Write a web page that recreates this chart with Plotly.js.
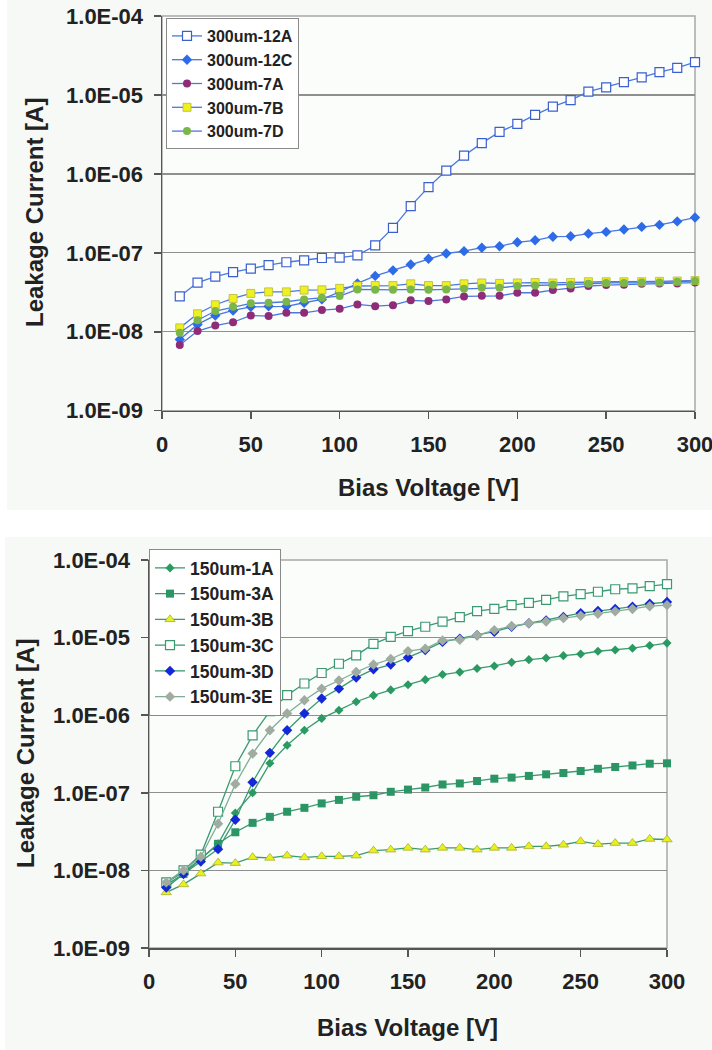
<!DOCTYPE html>
<html>
<head>
<meta charset="utf-8">
<script src="https://cdn.plot.ly/plotly-3.0.1.min.js"></script>
<style>
html,body{margin:0;padding:0;background:#ffffff;}
#chart{width:712px;height:1050px;}
</style>
</head>
<body>
<div id="chart"></div>
<script>
// ---------- data ----------
const voltage = [10,20,30,40,50,60,70,80,90,100,110,120,130,140,150,160,170,180,190,200,210,220,230,240,250,260,270,280,290,300];
const xTicks = [0,50,100,150,200,250,300];
const yTickVals = [1e-9,1e-8,1e-7,1e-6,1e-5,1e-4];
const yTickText = ['1.0E-09','1.0E-08','1.0E-07','1.0E-06','1.0E-05','1.0E-04'];

// top chart: 300um sensors
const topNames = ['300um-12A','300um-12C','300um-7A','300um-7B','300um-7D'];
const i300_12A = [2.8e-8,4.2e-8,5.0e-8,5.7e-8,6.3e-8,7.0e-8,7.6e-8,8.0e-8,8.6e-8,8.7e-8,9.3e-8,1.24e-7,2.07e-7,3.9e-7,6.8e-7,1.1e-6,1.7e-6,2.45e-6,3.4e-6,4.3e-6,5.6e-6,7.1e-6,8.6e-6,1.1e-5,1.25e-5,1.45e-5,1.67e-5,1.94e-5,2.2e-5,2.6e-5];
const i300_12C = [8.0e-9,1.24e-8,1.61e-8,1.86e-8,2.07e-8,2.1e-8,2.1e-8,2.33e-8,2.57e-8,3.2e-8,4.1e-8,5.1e-8,6.0e-8,7.1e-8,8.4e-8,9.8e-8,1.05e-7,1.16e-7,1.21e-7,1.36e-7,1.44e-7,1.6e-7,1.62e-7,1.75e-7,1.84e-7,1.97e-7,2.13e-7,2.26e-7,2.5e-7,2.8e-7];
const i300_7A = [6.8e-9,1.02e-8,1.2e-8,1.32e-8,1.61e-8,1.58e-8,1.74e-8,1.74e-8,1.88e-8,1.95e-8,2.22e-8,2.11e-8,2.17e-8,2.5e-8,2.45e-8,2.57e-8,2.8e-8,2.85e-8,2.85e-8,3.12e-8,3.12e-8,3.37e-8,3.54e-8,3.8e-8,3.9e-8,3.95e-8,4.05e-8,4.1e-8,4.1e-8,4.2e-8];
const i300_7B = [1.12e-8,1.69e-8,2.2e-8,2.64e-8,3.06e-8,3.2e-8,3.2e-8,3.37e-8,3.4e-8,3.54e-8,3.8e-8,3.85e-8,3.85e-8,4.05e-8,3.85e-8,3.85e-8,4.05e-8,4.15e-8,4.1e-8,4.15e-8,4.2e-8,4.15e-8,4.2e-8,4.3e-8,4.3e-8,4.3e-8,4.3e-8,4.35e-8,4.4e-8,4.45e-8];
const i300_7D = [9.7e-9,1.4e-8,1.83e-8,2.07e-8,2.29e-8,2.33e-8,2.4e-8,2.57e-8,2.7e-8,2.83e-8,3.44e-8,3.4e-8,3.4e-8,3.44e-8,3.4e-8,3.44e-8,3.5e-8,3.6e-8,3.6e-8,3.8e-8,3.85e-8,3.95e-8,3.95e-8,4.05e-8,4.15e-8,4.15e-8,4.2e-8,4.2e-8,4.3e-8,4.4e-8];

// bottom chart: 150um sensors
const botNames = ['150um-1A','150um-3A','150um-3B','150um-3C','150um-3D','150um-3E'];
const i150_1A = [7.0e-9,9.5e-9,1.4e-8,2.2e-8,5.5e-8,1.0e-7,2.4e-7,4.1e-7,6.4e-7,9.1e-7,1.16e-6,1.49e-6,1.8e-6,2.12e-6,2.47e-6,2.87e-6,3.34e-6,3.59e-6,4.0e-6,4.31e-6,4.8e-6,5.2e-6,5.45e-6,5.85e-6,6.15e-6,6.67e-6,6.93e-6,7.3e-6,7.9e-6,8.5e-6];
const i150_3A = [6.5e-9,9.0e-9,1.4e-8,2.2e-8,3.1e-8,4.1e-8,4.9e-8,5.7e-8,6.4e-8,7.3e-8,8.1e-8,8.9e-8,9.3e-8,1.03e-7,1.1e-7,1.17e-7,1.28e-7,1.32e-7,1.42e-7,1.52e-7,1.57e-7,1.65e-7,1.73e-7,1.8e-7,1.91e-7,2.04e-7,2.15e-7,2.25e-7,2.37e-7,2.4e-7];
const i150_3B = [5.2e-9,6.6e-9,9.1e-9,1.26e-8,1.24e-8,1.48e-8,1.45e-8,1.55e-8,1.47e-8,1.52e-8,1.52e-8,1.55e-8,1.8e-8,1.85e-8,1.95e-8,1.85e-8,1.95e-8,1.95e-8,1.85e-8,1.95e-8,1.95e-8,2.04e-8,2.04e-8,2.14e-8,2.37e-8,2.18e-8,2.25e-8,2.25e-8,2.54e-8,2.5e-8];
const i150_3C = [7.0e-9,1.0e-8,1.6e-8,5.7e-8,2.2e-7,5.5e-7,1.13e-6,1.81e-6,2.56e-6,3.5e-6,4.6e-6,5.9e-6,8.3e-6,1.02e-5,1.21e-5,1.38e-5,1.61e-5,1.84e-5,2.19e-5,2.34e-5,2.62e-5,2.8e-5,3.06e-5,3.4e-5,3.63e-5,3.9e-5,4.2e-5,4.3e-5,4.6e-5,4.9e-5];
const i150_3D = [6.0e-9,9.0e-9,1.3e-8,1.88e-8,4.5e-8,1.37e-7,3.27e-7,6.4e-7,1.05e-6,1.64e-6,2.2e-6,3.05e-6,3.9e-6,4.5e-6,5.55e-6,6.9e-6,8.8e-6,9.7e-6,1.07e-5,1.19e-5,1.38e-5,1.53e-5,1.66e-5,1.84e-5,2.07e-5,2.2e-5,2.34e-5,2.5e-5,2.73e-5,2.87e-5];
const i150_3E = [7.0e-9,1.0e-8,1.5e-8,4.0e-8,1.3e-7,3.2e-7,6.4e-7,1.05e-6,1.56e-6,2.2e-6,2.8e-6,3.6e-6,4.5e-6,5.3e-6,6.7e-6,7.2e-6,9.2e-6,9.4e-6,1.07e-5,1.25e-5,1.41e-5,1.53e-5,1.61e-5,1.78e-5,1.91e-5,2.03e-5,2.18e-5,2.34e-5,2.54e-5,2.62e-5];

// ---------- styling ----------
const W = 712, H = 1050;
const px = v => v / W;
const py = v => (H - v) / H;
const FONT = 'Liberation Sans, Arial, sans-serif';
const topLine = '#4a78e0';
const botLine = '#3a9a70';

function tr(name, y, xa, ya, leg, lineColor, marker) {
  return {
    type: 'scatter', mode: 'lines+markers', name: name,
    x: voltage, y: y, xaxis: xa, yaxis: ya, legend: leg,
    line: {color: lineColor, width: 1.3},
    marker: marker, cliponaxis: false
  };
}

const traces = [
  tr(topNames[0], i300_12A, 'x', 'y', 'legend', topLine, {symbol:'square', size:9, color:'#ffffff', line:{color:'#3a5fd0', width:1.2}}),
  tr(topNames[1], i300_12C, 'x', 'y', 'legend', topLine, {symbol:'diamond', size:8, color:'#2d6be8', line:{width:0}}),
  tr(topNames[2], i300_7A, 'x', 'y', 'legend', topLine, {symbol:'circle', size:8, color:'#8e2c78', line:{width:0}}),
  tr(topNames[3], i300_7B, 'x', 'y', 'legend', topLine, {symbol:'square', size:8, color:'#eef020', line:{color:'#b8b840', width:0.8}}),
  tr(topNames[4], i300_7D, 'x', 'y', 'legend', topLine, {symbol:'circle', size:8, color:'#7ab648', line:{width:0}}),

  tr(botNames[0], i150_1A, 'x2', 'y2', 'legend2', botLine, {symbol:'diamond', size:7, color:'#2a9a62', line:{width:0}}),
  tr(botNames[1], i150_3A, 'x2', 'y2', 'legend2', botLine, {symbol:'square', size:8, color:'#2b9565', line:{width:0}}),
  tr(botNames[2], i150_3B, 'x2', 'y2', 'legend2', botLine, {symbol:'triangle-up', size:9, color:'#e8f01e', line:{color:'#a8b030', width:0.8}}),
  tr(botNames[3], i150_3C, 'x2', 'y2', 'legend2', botLine, {symbol:'square', size:9, color:'#ffffff', line:{color:'#3a9a70', width:1.2}}),
  tr(botNames[4], i150_3D, 'x2', 'y2', 'legend2', botLine, {symbol:'diamond', size:8, color:'#1428d8', line:{width:0}}),
  tr(botNames[5], i150_3E, 'x2', 'y2', 'legend2', '#7fae98', {symbol:'diamond', size:8, color:'#a0aca0', line:{width:0}})
];

const tickFont = {family: FONT, size: 22, color: '#222222', weight: 'bold'};
const titleFont = {family: FONT, size: 24, color: '#222222', weight: 'bold'};

function xAxis(domain, anchor) {
  return {
    domain: domain, anchor: anchor, range: [0, 300],
    tickvals: xTicks, ticktext: xTicks.map(String),
    ticks: 'outside', ticklen: 7, tickcolor: '#555', tickwidth: 1.5,
    ticklabelstandoff: 6, ticklabeloverflow: 'allow',
    showline: true, linecolor: '#555', linewidth: 1.5,
    showgrid: false, zeroline: false, tickfont: tickFont, fixedrange: true
  };
}
function yAxis(domain, anchor) {
  return {
    domain: domain, anchor: anchor, type: 'log', range: [-9, -4],
    tickvals: yTickVals, ticktext: yTickText,
    ticks: 'outside', ticklen: 7, tickcolor: '#555', tickwidth: 1.5,
    ticklabelstandoff: 6, ticklabeloverflow: 'allow',
    showline: true, linecolor: '#555', linewidth: 1.5,
    showgrid: true, gridcolor: '#8f8f8f', gridwidth: 1.3,
    zeroline: false, tickfont: tickFont, fixedrange: true
  };
}

const layout = {
  width: W, height: H,
  margin: {l: 0, r: 0, t: 0, b: 0},
  paper_bgcolor: '#ffffff',
  plot_bgcolor: 'rgba(0,0,0,0)',
  font: {family: FONT},
  xaxis: xAxis([px(162), px(695)], 'y'),
  yaxis: yAxis([py(410.7), py(16)], 'x'),
  xaxis2: xAxis([px(149), px(667)], 'y2'),
  yaxis2: yAxis([py(948), py(560)], 'x2'),
  legend: {
    x: px(166), y: py(18), xanchor: 'left', yanchor: 'top',
    bgcolor: '#ffffff', bordercolor: '#8a8a8a', borderwidth: 1,
    font: {family: FONT, size: 16, color: '#222', weight: 'bold'},
    tracegroupgap: 0, itemclick: false
  },
  legend2: {
    x: px(149), y: py(549), xanchor: 'left', yanchor: 'top',
    bgcolor: '#ffffff', bordercolor: '#8a8a8a', borderwidth: 1,
    font: {family: FONT, size: 17.5, color: '#222', weight: 'bold'},
    tracegroupgap: 0, itemclick: false
  },
  shapes: [
    {type:'rect', xref:'paper', yref:'paper', x0:px(7), x1:1, y0:py(510), y1:1, fillcolor:'#f6f9f6', line:{width:0}, layer:'below'},
    {type:'rect', xref:'paper', yref:'paper', x0:px(5), x1:1, y0:0, y1:py(537), fillcolor:'#f6f9f6', line:{width:0}, layer:'below'},
    {type:'rect', xref:'x domain', yref:'y domain', x0:0, x1:1, y0:0, y1:1, fillcolor:'#fbfdfb', line:{color:'#a8a8a8', width:1.5}, layer:'below'},
    {type:'rect', xref:'x2 domain', yref:'y2 domain', x0:0, x1:1, y0:0, y1:1, fillcolor:'#fbfdfb', line:{color:'#a8a8a8', width:1.5}, layer:'below'}
  ],
  annotations: [
    {text:'Leakage Current [A]', xref:'paper', yref:'paper', x:px(34), y:py(213), textangle:-90, showarrow:false, font:titleFont, xanchor:'center', yanchor:'middle'},
    {text:'Bias Voltage [V]', xref:'paper', yref:'paper', x:px(428), y:py(488), showarrow:false, font:titleFont, xanchor:'center', yanchor:'middle'},
    {text:'Leakage Current [A]', xref:'paper', yref:'paper', x:px(25), y:py(754), textangle:-90, showarrow:false, font:titleFont, xanchor:'center', yanchor:'middle'},
    {text:'Bias Voltage [V]', xref:'paper', yref:'paper', x:px(408), y:py(1027), showarrow:false, font:titleFont, xanchor:'center', yanchor:'middle'}
  ],
  showlegend: true
};

Plotly.newPlot('chart', traces, layout, {displayModeBar: false, staticPlot: true});
</script>
</body>
</html>
